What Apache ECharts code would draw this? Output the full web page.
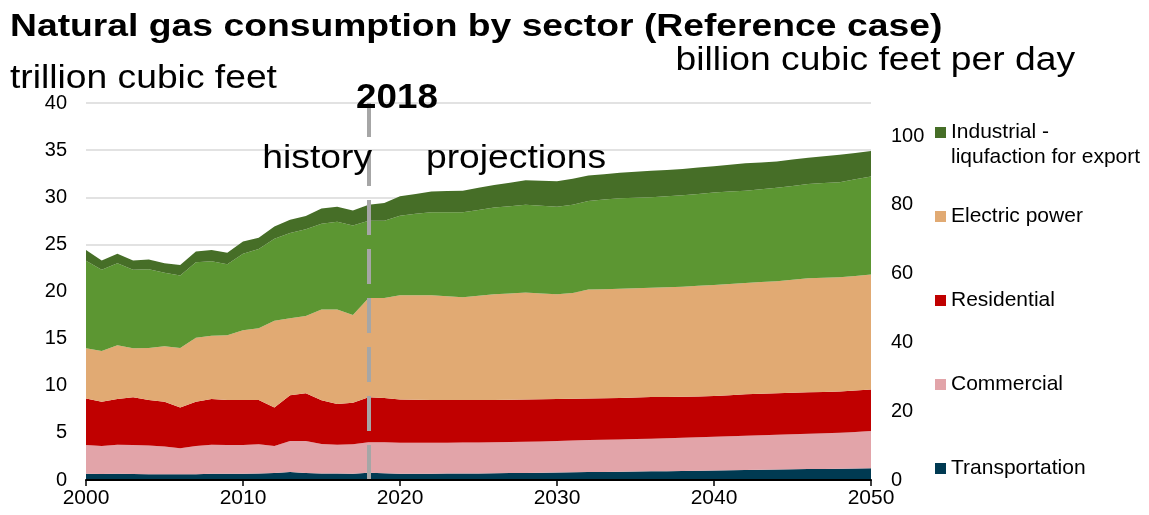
<!DOCTYPE html>
<html>
<head>
<meta charset="utf-8">
<script src="https://cdn.jsdelivr.net/npm/echarts@6/dist/echarts.min.js"></script>
<style>
html,body{margin:0;padding:0;background:#fff;}
#chart{width:1149px;height:515px;}
</style>
</head>
<body>
<div id="chart"></div>
<script>
// ---- Data (trillion cubic feet per year) ----
var years = [];
for (var yr = 2000; yr <= 2050; yr++) years.push(String(yr));

var transportation = [0.65,0.64,0.66,0.63,0.60,0.60,0.60,0.62,0.65,0.66,
  0.67,0.69,0.73,0.85,0.75,0.68,0.68,0.66,0.76,0.72,
  0.65,0.66,0.67,0.68,0.69,0.70,0.72,0.73,0.75,0.77,
  0.80,0.82,0.84,0.86,0.88,0.90,0.92,0.94,0.96,0.99,
  1.02,1.04,1.07,1.09,1.12,1.14,1.16,1.18,1.20,1.22,1.25];
var commercial = [3.06,2.96,3.09,3.08,3.05,2.95,2.76,2.98,3.10,3.05,
  3.04,3.11,2.87,3.28,3.38,3.14,3.07,3.14,3.24,3.28,
  3.31,3.30,3.29,3.28,3.28,3.29,3.29,3.30,3.31,3.32,
  3.33,3.36,3.40,3.41,3.43,3.44,3.46,3.49,3.53,3.55,
  3.58,3.61,3.63,3.66,3.68,3.72,3.76,3.79,3.82,3.88,3.95];
var residential = [4.95,4.70,4.85,5.06,4.85,4.75,4.34,4.70,4.85,4.79,
  4.79,4.70,4.10,4.87,5.07,4.63,4.31,4.40,4.77,4.70,
  4.59,4.56,4.54,4.54,4.53,4.51,4.49,4.49,4.49,4.48,
  4.47,4.44,4.41,4.41,4.39,4.41,4.42,4.37,4.33,4.32,
  4.30,4.35,4.40,4.40,4.40,4.39,4.38,4.38,4.38,4.40,4.40];
var electricPower = [5.31,5.40,5.70,5.20,5.50,5.90,6.30,6.80,6.70,6.85,
  7.40,7.60,9.20,8.15,8.20,9.65,10.04,9.30,10.53,10.60,
  11.05,11.08,11.10,11.00,10.90,11.05,11.20,11.28,11.35,11.23,
  11.10,11.23,11.55,11.57,11.60,11.60,11.60,11.65,11.68,11.74,
  11.80,11.80,11.80,11.85,11.90,12.00,12.10,12.10,12.10,12.15,12.20];
var industrial = [9.28,8.60,8.70,8.33,8.35,7.80,7.70,8.00,7.90,7.55,
  8.10,8.40,8.70,9.05,9.20,9.10,9.30,9.50,8.20,8.20,
  8.45,8.65,8.80,8.90,9.00,9.10,9.20,9.25,9.30,9.30,
  9.30,9.35,9.40,9.50,9.60,9.60,9.60,9.65,9.70,9.75,
  9.80,9.80,9.80,9.85,9.90,9.95,10.00,10.05,10.10,10.25,10.40];
var liquefaction = [1.15,1.00,1.00,1.00,1.05,1.00,1.10,1.15,1.20,1.20,
  1.30,1.20,1.30,1.40,1.40,1.60,1.60,1.60,1.70,1.90,
  2.05,2.10,2.20,2.25,2.30,2.35,2.40,2.50,2.60,2.65,
  2.70,2.75,2.70,2.70,2.70,2.75,2.80,2.80,2.80,2.80,
  2.80,2.85,2.90,2.85,2.80,2.80,2.80,2.85,2.90,2.80,2.70];

var seriesNames = ['Transportation','Commercial','Residential','Electric power','Industrial','Industrial - liqufaction for export'];
var seriesColors = ['#003A52','#E2A4A9','#C00000','#E1AA73','#5C9632','#466E27'];
var seriesValues = [transportation, commercial, residential, electricPower, industrial, liquefaction];

var leftTicks = {min:0, max:40, interval:5};
var rightTicks = {min:0, max:40*1000/365, interval:20};
var dividerYear = '2018';

var FONT = 'Liberation Sans, Arial, sans-serif';

var chart = echarts.init(document.getElementById('chart'), null, {renderer:'canvas'});

var series = seriesValues.map(function(vals, k){
  return {
    name: seriesNames[k],
    type: 'line',
    stack: 'total',
    symbol: 'none',
    showSymbol: false,
    lineStyle: {width: 0},
    areaStyle: {color: seriesColors[k], opacity: 1},
    itemStyle: {color: seriesColors[k]},
    data: vals.slice(),
    z: 2
  };
});
series[series.length-1].markLine = {
  silent: true,
  symbol: 'none',
  label: {show: false},
  lineStyle: {color: '#A6A6A6', width: 4, type: [35, 14]},
  data: [{xAxis: dividerYear}],
  z: 5
};

var legendEntries = [
  {name: 'Industrial - liqufaction for export', cy: 132.5},
  {name: 'Electric power', cy: 216.5},
  {name: 'Residential', cy: 300.5},
  {name: 'Commercial', cy: 384.5},
  {name: 'Transportation', cy: 468.5}
];
var legends = legendEntries.map(function(e){
  return {
    data: [e.name],
    left: 930,
    top: e.cy - 15.5,
    orient: 'vertical',
    icon: 'rect',
    itemWidth: 11,
    itemHeight: 11,
    selectedMode: false,
    formatter: function(n){ return n === 'Industrial - liqufaction for export' ? 'Industrial -' : n; },
    textStyle: {fontFamily: FONT, fontSize: 21, color: '#000', lineHeight: 21}
  };
});

function txt(text, x, y, size, opts){
  opts = opts || {};
  return {
    type: 'text',
    x: x, y: y,
    scaleX: opts.scaleX || 1,
    style: {
      text: text,
      fill: '#000',
      font: (opts.bold ? 'bold ' : '') + size + 'px ' + FONT,
      align: opts.align || 'left',
      verticalAlign: 'middle'
    },
    z: 100
  };
}

var option = {
  backgroundColor: '#fff',
  animation: false,
  grid: {left: 86, right: 278, top: 103, bottom: 35, containLabel: false},
  legend: legends,
  xAxis: {
    type: 'category',
    data: years,
    boundaryGap: false,
    z: 10,
    axisLine: {show: true, lineStyle: {color: '#000', width: 2}},
    axisTick: {show: true, length: 6, interval: 9, lineStyle: {color: '#000', width: 1.5}},
    axisLabel: {fontFamily: FONT, fontSize: 21, color: '#000', margin: 8, interval: 9},
    splitLine: {show: false}
  },
  yAxis: [
    {
      type: 'value',
      min: leftTicks.min, max: leftTicks.max, interval: leftTicks.interval,
      axisLine: {show: false}, axisTick: {show: false},
      axisLabel: {fontFamily: FONT, fontSize: 20, color: '#000', margin: 19},
      splitLine: {show: true, lineStyle: {color: '#D9D9D9', width: 1.5}}
    },
    {
      type: 'value',
      min: rightTicks.min, max: rightTicks.max, interval: rightTicks.interval,
      position: 'right',
      axisLine: {show: false}, axisTick: {show: false},
      axisLabel: {fontFamily: FONT, fontSize: 20, color: '#000', margin: 20, showMaxLabel: false},
      splitLine: {show: false}
    }
  ],
  series: series,
  graphic: [
    txt('Natural gas consumption by sector (Reference case)', 10, 27, 32, {bold: true, scaleX: 1.165}),
    txt('trillion cubic feet', 10, 79, 34, {scaleX: 1.095}),
    txt('billion cubic feet per day', 1075, 61, 34, {scaleX: 1.095, align: 'right'}),
    txt('2018', 397, 98, 35, {bold: true, scaleX: 1.05, align: 'center'}),
    txt('history', 372, 159, 34, {scaleX: 1.095, align: 'right'}),
    txt('projections', 426, 159, 34, {scaleX: 1.095}),
    txt('liqufaction for export', 951, 157, 21, {})
  ]
};
chart.setOption(option);
</script>
</body>
</html>
